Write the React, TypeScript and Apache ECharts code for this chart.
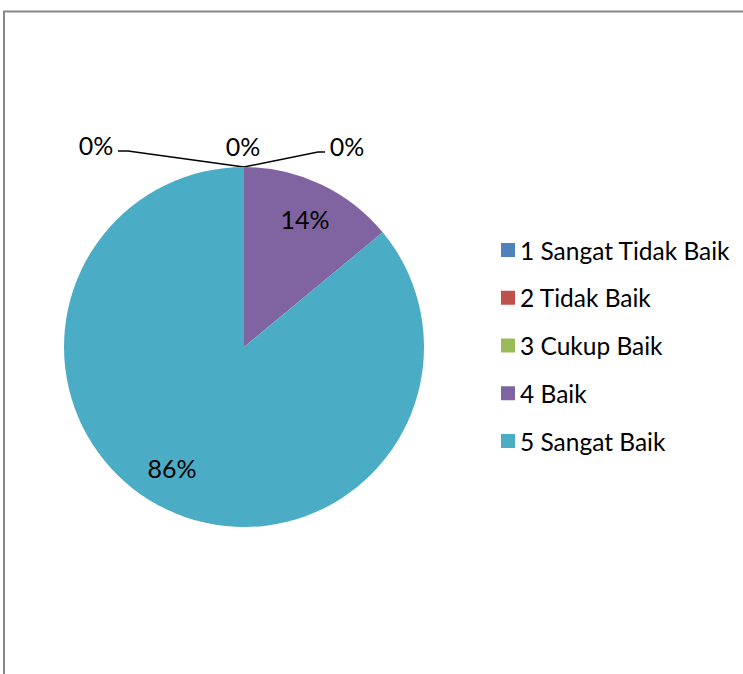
import React, { useEffect, useRef } from "react";
import * as echarts from "echarts";

const categories = ["1 Sangat Tidak Baik", "2 Tidak Baik", "3 Cukup Baik", "4 Baik", "5 Sangat Baik"];
const values = [0, 0, 0, 14, 86];
const colors = ["#4F81BD", "#C0504D", "#9BBB59", "#8064A2", "#4BACC6"];

const CX = 244;
const CY = 347;
const R = 180;
const FONT = "Lato, 'Noto Sans', sans-serif";
// label centres relative to pie centre
const LABEL_OFFSETS = [[-148, -202], [-1, -201], [103, -201], [61, -128], [-72, 121]];
// leader-line elbow points relative to pie centre (null = no line)
const LINE_ELBOWS: (number[][] | null)[] = [[[-116, -196], [-126, -196]], null, [[74, -195], [81, -195]], null, null];

export default function App() {
  const ref = useRef<HTMLDivElement>(null);
  useEffect(() => {
    if (!ref.current) return;
    const chart = echarts.init(ref.current, null, { renderer: "svg" });
    const data = categories.map((name, i) => {
      const zero = values[i] === 0;
      return {
        name,
        value: values[i],
        itemStyle: { color: colors[i] },
        label: { position: zero ? "outside" : "inside" },
        labelLine: { show: LINE_ELBOWS[i] !== null },
      };
    });
    chart.setOption({
      animation: false,
      backgroundColor: "#ffffff",
      graphic: [
        {
          type: "rect",
          shape: { x: 4, y: 11.5, width: 900, height: 800 },
          style: { fill: "none", stroke: "#888888", lineWidth: 2 },
          silent: true,
        },
      ],
      legend: {
        orient: "vertical",
        left: 496,
        top: 232,
        icon: "rect",
        itemWidth: 14,
        itemHeight: 14,
        itemGap: 21.75,
        data: categories,
        textStyle: { fontFamily: FONT, fontSize: 24.5, color: "#000", lineHeight: 26 },
        selectedMode: false,
      },
      series: [
        {
          type: "pie",
          center: [CX, CY],
          radius: [0, R],
          startAngle: 90,
          clockwise: true,
          avoidLabelOverlap: false,
          itemStyle: { borderWidth: 0 },
          label: {
            show: true,
            color: "#000",
            fontFamily: FONT,
            fontSize: 25,
            formatter: (p: any) => Math.round(p.percent) + "%",
          },
          labelLine: { lineStyle: { color: "#000", width: 1.5 } },
          labelLayout: (p: any) => {
            const i = p.dataIndex;
            const off = LABEL_OFFSETS[i];
            const res: any = {
              x: CX + off[0],
              y: CY + off[1],
              align: "center",
              verticalAlign: "middle",
            };
            const elbow = LINE_ELBOWS[i];
            if (elbow) {
              res.labelLinePoints = [[CX, CY - R], [CX + elbow[0][0], CY + elbow[0][1]], [CX + elbow[1][0], CY + elbow[1][1]]];
            }
            return res;
          },
          data,
        },
      ],
    });
    return () => chart.dispose();
  }, []);
  return <div ref={ref} style={{ position: "absolute", left: 0, top: 0, width: 743, height: 674 }} />;
}
